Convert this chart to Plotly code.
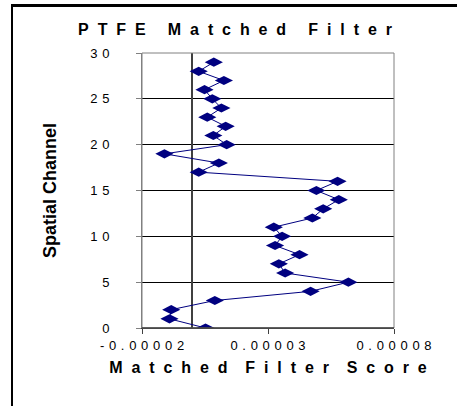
import plotly.graph_objects as go

channels = list(range(30))
scores = [5.2e-6, -9.1e-6, -8.4e-6, 8.9e-6, 4.69e-5, 6.19e-5, 3.68e-5, 3.43e-5, 4.25e-5, 3.28e-5,
          3.56e-5, 3.23e-5, 4.76e-5, 5.19e-5, 5.81e-5, 4.92e-5, 5.76e-5, 2.5e-6, 1.05e-5, -1.11e-5,
          1.36e-5, 8.3e-6, 1.32e-5, 5.9e-6, 1.15e-5, 7.9e-6, 4.8e-6, 1.25e-5, 2.5e-6, 8.5e-6]

x_tickvals = [-0.00002, 0.00003, 0.00008]
x_ticklabels = ["-0.00002", "0.00003", "0.00008"]
y_tickvals = [0, 5, 10, 15, 20, 25, 30]
y_ticklabels = ["0", "5", "10", "15", "20", "25", "30"]

title = "PTFE Matched Filter"
xtitle = "Matched Filter Score"
ytitle = "Spatial Channel"

NB = "\u00a0"
HS = "\u200a"


def spaced(s, gap=NB + HS, wordgap=NB * 3):
    return wordgap.join(gap.join(w) for w in s.split(" "))


fig = go.Figure()
fig.add_trace(go.Scatter(
    x=scores, y=channels, mode="lines+markers",
    line=dict(color="#000080", width=1),
    marker=dict(symbol="diamond-wide", size=13, color="#000080"),
    showlegend=False,
))

# paper-coordinate helpers for the outer frame (plot area: x 142..394, y 53..328 px)
px0 = (12 - 142) / 252
py_top = (328 - 6) / 275

font_family = "Liberation Sans, Arial, sans-serif"
fig.update_layout(
    width=457, height=406,
    margin=dict(l=142, r=63, t=53, b=78, autoexpand=False),
    paper_bgcolor="white", plot_bgcolor="white",
    font=dict(family=font_family, color="black", size=13),
    title=dict(text="<b>" + spaced(title, NB * 2, NB * 5) + "</b>", x=235 / 457, xanchor="center",
               y=1 - 29 / 406, yanchor="middle", font=dict(size=16)),
    xaxis=dict(range=[-0.00002, 0.00008], tickvals=x_tickvals,
               ticktext=[spaced(t) for t in x_ticklabels],
               showgrid=False, zeroline=True, zerolinecolor="#404040", zerolinewidth=1.5,
               showline=True, linecolor="#404040", linewidth=1,
               ticks="outside", ticklen=5, tickcolor="#404040", automargin=False,
               title=dict(text="<b>" + spaced(xtitle, NB * 2, NB * 4) + "</b>", font=dict(size=16), standoff=10),
               tickfont=dict(size=13)),
    yaxis=dict(range=[0, 30], tickvals=y_tickvals,
               ticktext=[spaced(t) for t in y_ticklabels],
               showgrid=True, gridcolor="black", gridwidth=1, zeroline=False,
               showline=True, linecolor="#808080", linewidth=1,
               ticks="outside", ticklen=5, tickcolor="#808080", automargin=False,
               ticklabelstandoff=24,
               title=dict(text="<b>" + ytitle + "</b>", font=dict(size=18), standoff=28),
               tickfont=dict(size=13)),
    shapes=[
        dict(type="rect", xref="paper", yref="paper", x0=0, x1=1, y0=0, y1=1,
             line=dict(color="#808080", width=1), layer="above"),
        dict(type="line", xref="paper", yref="paper", x0=0, x1=1, y0=0, y1=0,
             line=dict(color="#404040", width=1.5), layer="above"),
        dict(type="line", xref="paper", yref="paper", x0=px0, x1=1.3, y0=py_top, y1=py_top,
             line=dict(color="black", width=2), layer="above"),
        dict(type="line", xref="paper", yref="paper", x0=px0, x1=px0, y0=py_top, y1=-0.3,
             line=dict(color="black", width=2), layer="above"),
    ],
)

overlay_js = (
    "document.body.style.margin='0';document.body.style.overflow='hidden';"
    "document.documentElement.style.overflow='hidden';"
    "var ov=document.createElement('div');"
    "ov.style.cssText='position:absolute;left:11px;top:4px;width:500px;height:2px;"
    "background:black;pointer-events:none;z-index:1000;';"
    "document.body.appendChild(ov);window.scrollTo(0,0);"
)

fig.write_html("out.html", config={"displayModeBar": False}, post_script=overlay_js)
